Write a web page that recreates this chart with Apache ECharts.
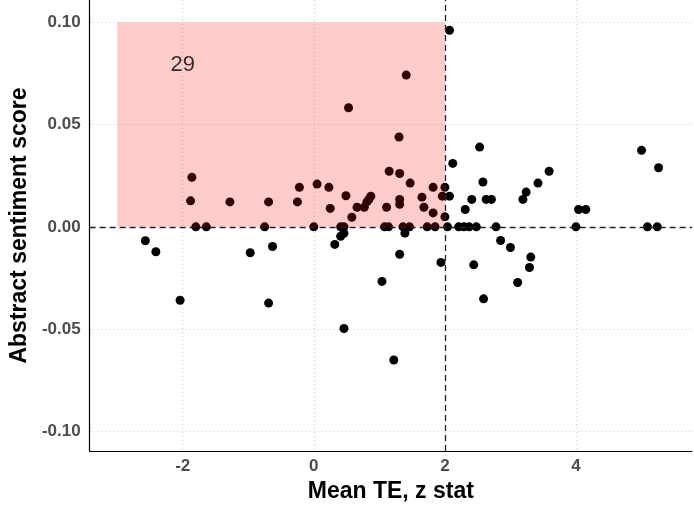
<!DOCTYPE html>
<html>
<head>
<meta charset="utf-8">
<script src="https://cdn.jsdelivr.net/npm/echarts@6/dist/echarts.min.js"></script>
<style>
html,body{margin:0;padding:0;background:#fff;}
#chart{width:694px;height:508px;}
</style>
</head>
<body>
<div id="chart"></div>
<script>
// Mean TE z stat (x) and abstract sentiment score (y)
const xValues = [
  -1.86,-1.88,-1.28,-0.69,-0.25,-0.22,0.05,0.23,0.25,0.49,0.53,0.58,0.66,0.77,0.81,0.84,0.87,1.11,1.15,1.30,1.31,1.31,1.31,1.41,1.47,1.65,1.68,1.82,1.82,1.96,
  2.00,2.07,2.12,2.53,2.58,2.07,2.00,2.41,2.63,2.71,2.31,3.19,3.24,3.42,3.59,4.04,4.15,5.00,5.26,
  -1.80,-1.64,-0.75,0.00,0.41,0.46,1.08,1.14,1.36,1.46,1.73,1.85,2.04,2.21,2.29,2.37,2.48,2.78,4.00,5.09,5.24,
  -2.57,-2.41,-0.97,-0.63,-2.04,-0.69,0.46,0.41,0.32,1.39,1.31,1.94,1.04,0.46,1.22,2.85,3.00,3.31,3.29,2.44,3.11,2.59
];
const yValues = [
  0.0242,0.0127,0.0122,0.0122,0.0122,0.0193,0.0209,0.0193,0.0090,0.0152,0.0582,0.0047,0.0096,0.0096,0.0122,0.0134,0.0150,0.0096,0.0272,0.0439,0.0261,0.0134,0.0110,0.0742,0.0214,0.0145,0.0096,0.0193,0.0068,0.0150,
  0.0193,0.0961,0.0310,0.0390,0.0219,0.0150,0.0049,0.0134,0.0134,0.0134,0.0085,0.0134,0.0170,0.0214,0.0272,0.0085,0.0085,0.0374,0.0289,
  0,0,0,0,0,0,0,0,0,0,0,0,0,0,0,0,0,0,0,0,0,
  -0.0068,-0.0122,-0.0127,-0.0096,-0.0359,-0.0373,-0.0032,-0.0046,-0.0086,-0.0031,-0.0134,-0.0174,-0.0267,-0.0497,-0.0651,-0.0067,-0.0101,-0.0148,-0.0199,-0.0186,-0.0272,-0.0352
];
const xTicks = [-2, 0, 2, 4];
const yTicks = [-0.10, -0.05, 0.00, 0.05, 0.10];
const xRange = [-3.42, 5.77];
const yRange = [-0.1096, 0.1109];
const regionX = [-3, 2];
const regionY = [0, 0.10];
const refX = 2;
const refY = 0;
const annotX = -2.0;
const annotY = 0.079;
const annotText = "29";

const points = xValues.map((x, i) => [x, yValues[i]]);

const chart = echarts.init(document.getElementById('chart'), null, {renderer: 'canvas'});
const fam = 'Liberation Sans, Arial, sans-serif';
const tickFont = {color: '#4d4d4d', fontWeight: 'bold', fontSize: 17, fontFamily: fam};
const gridLine = {show: true, lineStyle: {color: '#cfcfcf', type: [1, 3], width: 1}};

chart.setOption({
  animation: false,
  backgroundColor: '#ffffff',
  grid: {left: 85, right: 2, top: 0, bottom: 57, containLabel: false},
  xAxis: {
    type: 'value',
    min: xRange[0], max: xRange[1],
    name: 'Mean TE, z stat',
    nameLocation: 'middle',
    nameGap: 26,
    nameTextStyle: {color: '#000', fontWeight: 'bold', fontSize: 23, fontFamily: fam},
    axisLine: {show: true, onZero: false, lineStyle: {color: '#000', width: 1.2}},
    axisTick: {show: false, customValues: xTicks},
    axisLabel: Object.assign({customValues: xTicks, margin: 7, formatter: v => String(v)}, tickFont),
    splitLine: gridLine
  },
  yAxis: {
    type: 'value',
    min: yRange[0], max: yRange[1],
    name: 'Abstract sentiment score',
    nameLocation: 'middle',
    nameGap: 52,
    nameTextStyle: {color: '#000', fontWeight: 'bold', fontSize: 23, fontFamily: fam},
    axisLine: {show: true, onZero: false, lineStyle: {color: '#000', width: 1.2}},
    axisTick: {show: false, customValues: yTicks},
    axisLabel: Object.assign({customValues: yTicks, margin: 9, formatter: v => v.toFixed(2)}, tickFont),
    splitLine: gridLine
  },
  series: [
    {
      type: 'scatter',
      data: points,
      symbolSize: 9,
      itemStyle: {color: '#000', opacity: 1},
      z: 2,
      markLine: {
        silent: true,
        z: 3,
        symbol: 'none',
        label: {show: false},
        lineStyle: {color: '#222', type: [6, 4], width: 1.3},
        data: [{xAxis: refX}, {yAxis: refY}]
      },
      markArea: {
        silent: true,
        z: 4,
        itemStyle: {color: 'rgba(255,0,0,0.2)'},
        data: [[{coord: [regionX[0], regionY[0]]}, {coord: [regionX[1], regionY[1]]}]]
      }
    },
    {
      type: 'scatter',
      data: [[annotX, annotY, annotText]],
      symbolSize: 0,
      zlevel: 1,
      z: 20,
      label: {show: true, position: 'inside', formatter: p => p.data[2], color: '#000', fontSize: 22, fontFamily: fam}
    }
  ]
});
</script>
</body>
</html>
